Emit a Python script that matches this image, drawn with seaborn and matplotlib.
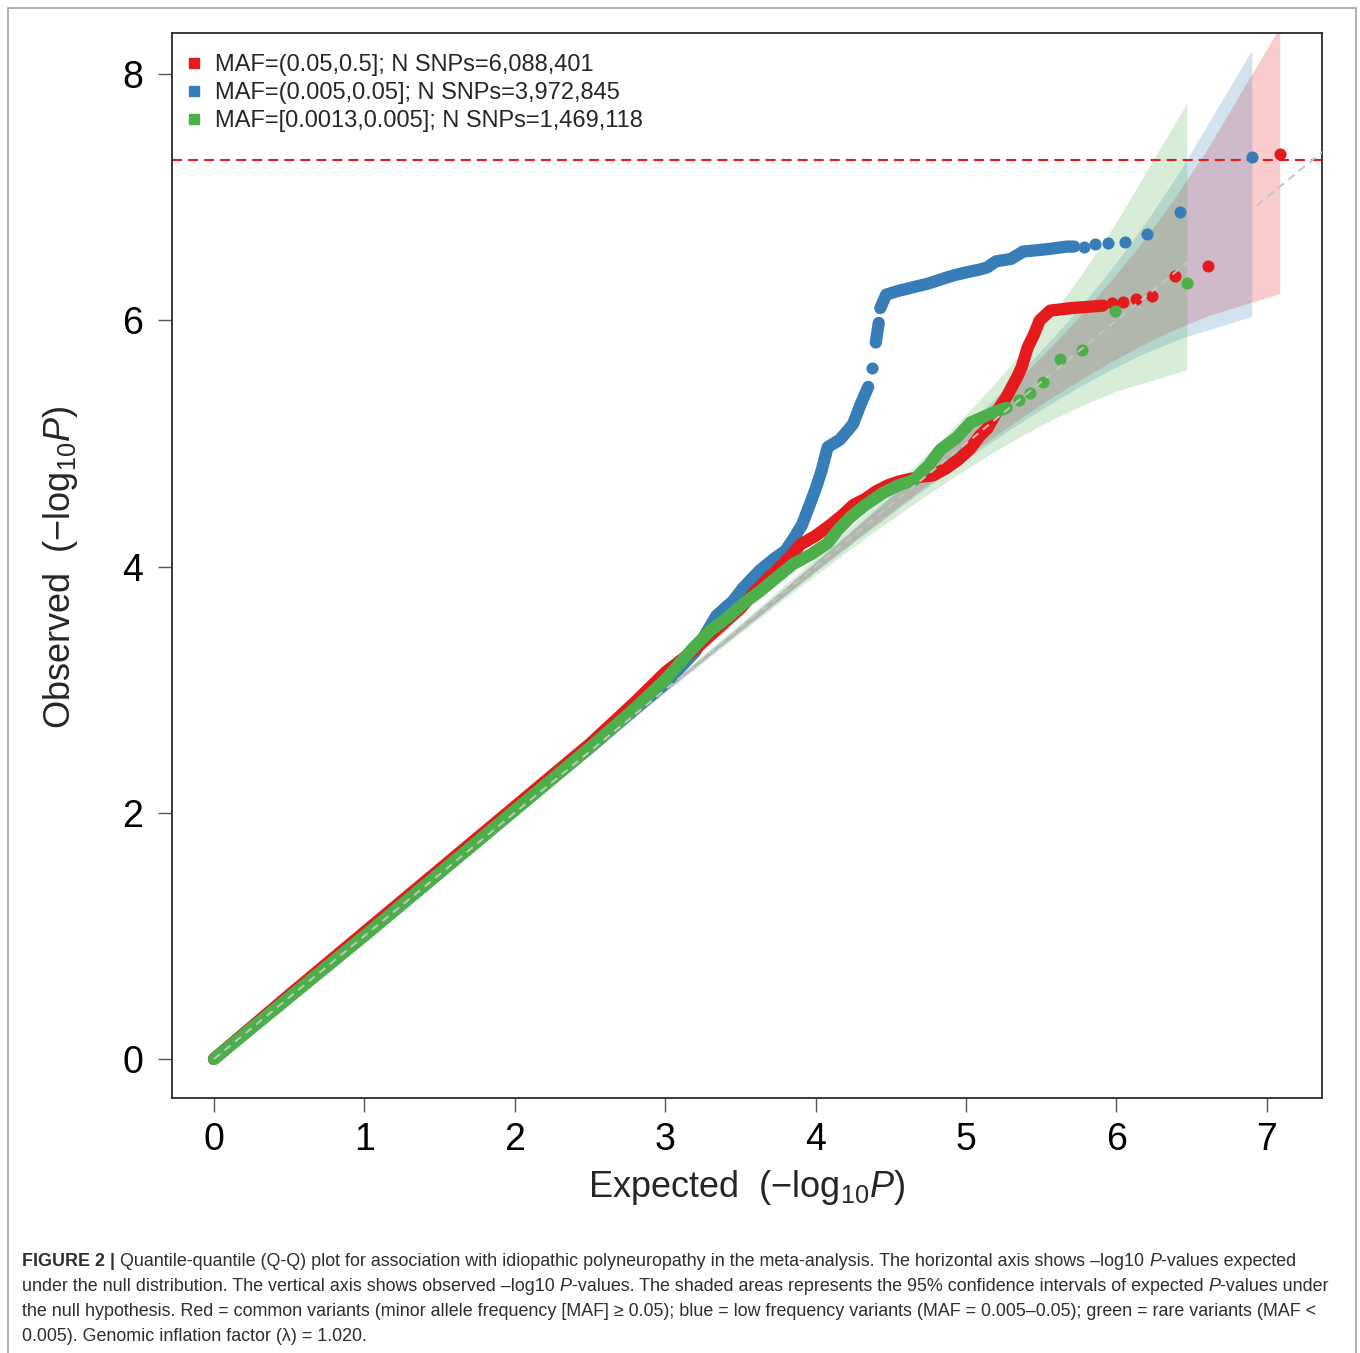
import matplotlib
matplotlib.use('Agg')
import matplotlib.pyplot as plt
import seaborn as sns
import pandas as pd
from matplotlib import font_manager
from matplotlib.lines import Line2D
from matplotlib.patches import Rectangle
from matplotlib.font_manager import FontProperties

# ------------------------------------------------------------------ data
series_labels = ['MAF=(0.05,0.5]; N SNPs=6,088,401',
                 'MAF=(0.005,0.05]; N SNPs=3,972,845',
                 'MAF=[0.0013,0.005]; N SNPs=1,469,118']
series_colors = ['#E41A1C', '#377EB8', '#4DAF4A']

# dense runs of overlapping points (expected, observed)
red_run_x = [0.0, 0.5, 1.0, 1.5, 2.0, 2.5, 2.8, 3.0, 3.2, 3.4, 3.5, 3.6, 3.68, 3.75, 3.83, 3.9,
             4.0, 4.1, 4.18, 4.25, 4.33, 4.4, 4.48, 4.55, 4.62, 4.7, 4.78, 4.87, 4.95, 5.03,
             5.09, 5.14, 5.21, 5.27, 5.34, 5.37, 5.41, 5.45, 5.49, 5.56, 5.7, 5.91]
red_run_y = [0.0, 0.52, 1.03, 1.54, 2.05, 2.56, 2.9, 3.14, 3.33, 3.55, 3.66, 3.80, 3.90, 3.98, 4.08, 4.18,
             4.25, 4.34, 4.42, 4.50, 4.55, 4.61, 4.66, 4.69, 4.71, 4.73, 4.74, 4.80, 4.87, 4.96,
             5.06, 5.12, 5.27, 5.38, 5.54, 5.62, 5.78, 5.88, 6.00, 6.08, 6.10, 6.12]
red_run_id = [0] * 42
red_pts_x = [5.972, 6.044, 6.131, 6.240, 6.387, 6.608, 7.086]
red_pts_y = [6.14, 6.15, 6.17, 6.20, 6.36, 6.44, 7.35]

blue_run_x = [0.0, 0.5, 1.0, 1.5, 2.0, 2.5, 3.0, 3.2, 3.34, 3.45, 3.52, 3.63, 3.72, 3.8, 3.85, 3.91,
              3.96, 4.0, 4.04, 4.08, 4.12, 4.16, 4.21, 4.25, 4.30, 4.35,
              4.40, 4.42,
              4.43, 4.47, 4.55, 4.65, 4.75, 4.85, 4.93, 5.0, 5.08, 5.14, 5.2, 5.3, 5.38, 5.47,
              5.55, 5.67, 5.72]
blue_run_y = [0.0, 0.51, 1.02, 1.52, 2.03, 2.53, 3.05, 3.31, 3.60, 3.72, 3.83, 3.97, 4.06, 4.13, 4.22, 4.34,
              4.50, 4.63, 4.78, 4.97, 5.00, 5.03, 5.10, 5.16, 5.32, 5.46,
              5.82, 5.98,
              6.10, 6.21, 6.24, 6.27, 6.30, 6.34, 6.37, 6.39, 6.41, 6.43, 6.48, 6.50, 6.56, 6.57,
              6.58, 6.60, 6.60]
blue_run_id = [0] * 26 + [1] * 2 + [2] * 17
blue_pts_x = [4.375, 5.786, 5.859, 5.946, 6.055, 6.201, 6.423, 6.900]
blue_pts_y = [5.61, 6.60, 6.62, 6.63, 6.64, 6.70, 6.88, 7.33]

green_run_x = [0.0, 0.5, 1.0, 1.5, 2.0, 2.5, 2.8, 3.0, 3.18, 3.3, 3.41, 3.52, 3.63, 3.75, 3.85,
               3.97, 4.08, 4.15, 4.23, 4.33, 4.45, 4.55, 4.65, 4.75, 4.83, 4.94, 5.03, 5.14, 5.2,
               5.27]
green_run_y = [0.0, 0.5, 1.0, 1.51, 2.02, 2.53, 2.85, 3.08, 3.33, 3.48, 3.58, 3.70, 3.80, 3.92, 4.02,
               4.10, 4.19, 4.30, 4.40, 4.50, 4.60, 4.66, 4.70, 4.82, 4.95, 5.05, 5.17, 5.23, 5.26,
               5.29]
green_run_id = [0] * 30
green_pts_x = [5.354, 5.427, 5.514, 5.623, 5.769, 5.991, 6.468]
green_pts_y = [5.35, 5.41, 5.50, 5.69, 5.76, 6.08, 6.30]

# 95% confidence bands (expected, upper, lower)
red_band_x = [0.0, 1.785, 2.785, 3.307, 3.785, 4.086, 4.485, 4.787, 4.943, 5.090, 5.315, 5.495,
              5.623, 5.807, 5.972, 6.131, 6.240, 6.387, 6.608, 7.086]
red_band_hi = [0.0, 1.788, 2.793, 3.323, 3.812, 4.125, 4.546, 4.874, 5.048, 5.215, 5.479, 5.698,
               5.861, 6.104, 6.336, 6.574, 6.747, 6.993, 7.400, 8.382]
red_band_lo = [0.0, 1.782, 2.776, 3.292, 3.758, 4.048, 4.426, 4.704, 4.844, 4.973, 5.165, 5.313,
               5.414, 5.552, 5.669, 5.774, 5.841, 5.926, 6.038, 6.218]
blue_band_x = [0.0, 1.599, 2.599, 3.122, 3.599, 3.901, 4.299, 4.601, 4.757, 4.905, 5.129, 5.309,
               5.438, 5.621, 5.786, 5.946, 6.055, 6.201, 6.423, 6.900]
blue_band_hi = [0.0, 1.602, 2.608, 3.138, 3.626, 3.939, 4.360, 4.688, 4.862, 5.030, 5.293, 5.512,
                5.676, 5.918, 6.150, 6.389, 6.562, 6.807, 7.215, 8.196]
blue_band_lo = [0.0, 1.596, 2.591, 3.106, 3.572, 3.863, 4.240, 4.518, 4.658, 4.788, 4.979, 5.127,
                5.228, 5.366, 5.483, 5.589, 5.656, 5.740, 5.853, 6.032]
green_band_x = [0.0, 1.167, 2.167, 2.690, 3.167, 3.469, 3.867, 4.169, 4.325, 4.473, 4.697, 4.877,
                5.006, 5.189, 5.354, 5.514, 5.623, 5.769, 5.991, 6.468]
green_band_hi = [0.0, 1.170, 2.176, 2.706, 3.194, 3.507, 3.928, 4.256, 4.430, 4.598, 4.861, 5.080,
                 5.244, 5.486, 5.718, 5.957, 6.130, 6.375, 6.783, 7.764]
green_band_lo = [0.0, 1.164, 2.159, 2.674, 3.140, 3.431, 3.808, 4.086, 4.226, 4.356, 4.547, 4.695,
                 4.796, 4.934, 5.051, 5.157, 5.224, 5.308, 5.421, 5.600]

gw_threshold = 7.30          # -log10(5e-8)
identity_line = [0.0, 8.0]   # y = x reference
x_ticks = [0, 1, 2, 3, 4, 5, 6, 7]
y_ticks = [0, 2, 4, 6, 8]
x_label_word = 'Expected'
y_label_word = 'Observed'

caption_lines = [
    [('FIGURE 2 |', 'bold', 'normal'),
     (' Quantile-quantile (Q-Q) plot for association with idiopathic polyneuropathy in the meta-analysis. '
      'The horizontal axis shows \u2013log10 ', 'normal', 'normal'),
     ('P', 'normal', 'italic'), ('-values expected', 'normal', 'normal')],
    [('under the null distribution. The vertical axis shows observed \u2013log10 ', 'normal', 'normal'),
     ('P', 'normal', 'italic'),
     ('-values. The shaded areas represents the 95% confidence intervals of expected ', 'normal', 'normal'),
     ('P', 'normal', 'italic'), ('-values under', 'normal', 'normal')],
    [('the null hypothesis. Red = common variants (minor allele frequency [MAF] \u2265 0.05); blue = low '
      'frequency variants (MAF = 0.005\u20130.05); green = rare variants (MAF <', 'normal', 'normal')],
    [('0.005). Genomic inflation factor (\u03bb) = 1.020.', 'normal', 'normal')],
]

# ------------------------------------------------------------------ style
W, H, DPI = 1360, 1353, 100
sns.set_theme(style='ticks')
names = {f.name for f in font_manager.fontManager.ttflist}
BASE = 'Liberation Sans' if 'Liberation Sans' in names else 'DejaVu Sans'
NARROW = 'Liberation Sans Narrow' if 'Liberation Sans Narrow' in names else BASE
plt.rcParams['font.family'] = [BASE, 'DejaVu Sans']
plt.rcParams['mathtext.fontset'] = 'custom'
plt.rcParams['mathtext.rm'] = BASE
plt.rcParams['mathtext.it'] = BASE + ':italic'
plt.rcParams['mathtext.bf'] = BASE + ':bold'

fig = plt.figure(figsize=(W / DPI, H / DPI), dpi=DPI)
fig.patch.set_facecolor('white')
ax = fig.add_axes([172 / W, 1 - 1098 / H, 1150 / W, 1065 / H])
ax.set_facecolor('white')

BAND_ALPHA = 0.22
RUN_LW = 8.8
PT_SIZE = 76

bands = [(red_band_x, red_band_lo, red_band_hi),
         (blue_band_x, blue_band_lo, blue_band_hi),
         (green_band_x, green_band_lo, green_band_hi)]
for (bx, blo, bhi), c in zip(bands, series_colors):
    ax.fill_between(bx, blo, bhi, color=c, alpha=BAND_ALPHA, linewidth=0, zorder=1)

ax.axhline(gw_threshold, color='#E41A1C', lw=1.5, dashes=(4.8, 2.9), zorder=2)

runs = {
    'blue': (blue_run_x, blue_run_y, blue_run_id, blue_pts_x, blue_pts_y, series_colors[1]),
    'red': (red_run_x, red_run_y, red_run_id, red_pts_x, red_pts_y, series_colors[0]),
    'green': (green_run_x, green_run_y, green_run_id, green_pts_x, green_pts_y, series_colors[2]),
}
z = 3
for key in ['blue', 'red', 'green']:
    rx, ry, rid, px, py, c = runs[key]
    df = pd.DataFrame({'x': rx, 'y': ry, 'run': rid})
    n_before = len(ax.lines)
    sns.lineplot(data=df, x='x', y='y', units='run', estimator=None, sort=False,
                 color=c, linewidth=RUN_LW, ax=ax, legend=False, zorder=z)
    for ln in ax.lines[n_before:]:
        ln.set_solid_capstyle('round')
        ln.set_solid_joinstyle('round')
    sns.scatterplot(x=px, y=py, color=c, s=PT_SIZE, linewidth=0, ax=ax, legend=False, zorder=z + 0.5)
    z += 1

ax.plot(identity_line, identity_line, color='#C4C4C4', lw=1.4, dashes=(4, 3), zorder=10)

ax.set_xlim(-0.279, 7.367)
ax.set_ylim(-0.317, 8.335)
ax.set_xticks(x_ticks)
ax.set_yticks(y_ticks)
ax.set_xticklabels([str(t) for t in x_ticks])
ax.set_yticklabels([str(t) for t in y_ticks])
ax.tick_params(axis='both', direction='out', length=10, width=1.0, color='#555555',
               labelsize=27, labelcolor='black')
ax.tick_params(axis='x', pad=7.0)
ax.tick_params(axis='y', pad=10.8)
for sp in ax.spines.values():
    sp.set_visible(True)
    sp.set_color('#2a2a2a')
    sp.set_linewidth(1.3)
ax.grid(False)

ax.set_xlabel(x_label_word + r'  $(-\mathrm{log}_{10}\mathit{P})$', fontsize=26)
ax.set_ylabel(y_label_word + r'  $(-\mathrm{log}_{10}\mathit{P})$', fontsize=26)
ax.xaxis.set_label_coords((747 - 172) / 1150, (1098 - 1168) / 1065)
ax.yaxis.set_label_coords((80 - 172) / 1150, (1098 - 567) / 1065)

handles = [Line2D([], [], marker='s', linestyle='', color=c, markersize=7.2) for c in series_colors]
ax.legend(handles, series_labels, loc='upper left', bbox_to_anchor=(0.0109, 0.9805),
          frameon=False, fontsize=17, handlelength=0.8, handletextpad=0.5,
          labelspacing=0.26, borderpad=0, borderaxespad=0)

# ------------------------------------------------------------------ caption
renderer = fig.canvas.get_renderer()


def seg_w(txt, fs, weight, style):
    fp = FontProperties(family=NARROW, size=fs, weight=weight, style=style)
    w1 = renderer.get_text_width_height_descent('x' + txt + 'x', fp, ismath=False)[0]
    w0 = renderer.get_text_width_height_descent('xx', fp, ismath=False)[0]
    return w1 - w0


fs0 = 10.0
w_line2 = sum(seg_w(t, fs0, wt, st) for t, wt, st in caption_lines[1])
cap_fs = fs0 * 1314.0 / w_line2

baselines = [1266, 1291, 1316, 1341]
for segs, yb in zip(caption_lines, baselines):
    x = 22.0
    for t, wt, st in segs:
        fig.text(x / W, 1 - yb / H, t, fontsize=cap_fs, fontweight=wt, fontstyle=st,
                 family=NARROW, color='#2e2e2e', ha='left', va='baseline')
        x += seg_w(t, cap_fs, wt, st)

fig.add_artist(Rectangle((8 / W, -0.01), 1348 / W, 1 - 8 / H + 0.01, fill=False,
                         transform=fig.transFigure, edgecolor='#9a9a9a', linewidth=1.1))

fig.savefig('out.png', dpi=DPI, facecolor='white')
